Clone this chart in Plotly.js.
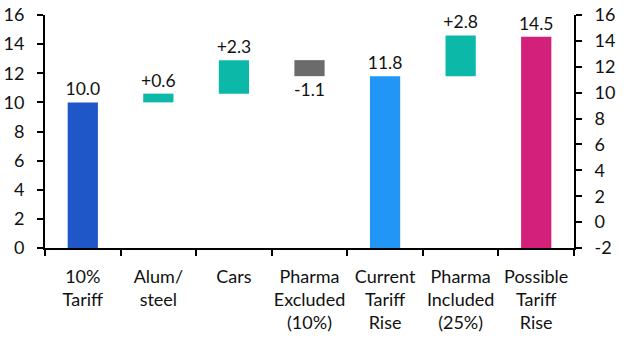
<!DOCTYPE html>
<html>
<head>
<meta charset="utf-8">
<script src="https://cdn.plot.ly/plotly-3.0.1.min.js"></script>
<style>html,body{margin:0;padding:0;background:#fff;}#chart{width:627px;height:353px;}</style>
</head>
<body>
<div id="chart"></div>
<script>
const categories = ["10%<br>Tariff", "Alum/<br>steel", "Cars", "Pharma<br>Excluded<br>(10%)", "Current<br>Tariff<br>Rise", "Pharma<br>Included<br>(25%)", "Possible<br>Tariff<br>Rise"];
const values = [10.0, 0.6, 2.3, -1.1, 11.8, 2.8, 14.5];
const kinds = ["total", "delta", "delta", "delta", "total", "delta", "total"];
const labels = ["10.0", "+0.6", "+2.3", "-1.1", "11.8", "+2.8", "14.5"];
const colors = ["#1f56c8", "#0cb9a9", "#0cb9a9", "#6b6b6b", "#2196f7", "#0cb9a9", "#d3217b"];
const leftTicks = [0, 2, 4, 6, 8, 10, 12, 14, 16];
const rightTicks = [-2, 0, 2, 4, 6, 8, 10, 12, 14, 16];

const bases = [];
const lengths = [];
let running = 0;
for (let i = 0; i < values.length; i++) {
  if (kinds[i] === "total") {
    bases.push(0);
    lengths.push(values[i]);
    running = values[i];
  } else {
    bases.push(running);
    lengths.push(values[i]);
    running += values[i];
  }
}

const font = "Lato, 'Open Sans', sans-serif";
const data = [
  {
    type: "bar",
    x: categories,
    y: lengths,
    base: bases,
    marker: {color: colors},
    text: labels,
    textposition: "outside",
    constraintext: "none",
    cliponaxis: false,
    textfont: {family: font, size: 17.5, color: "#111"},
    hoverinfo: "skip"
  },
  {
    type: "scatter",
    x: [],
    y: [],
    yaxis: "y2",
    showlegend: false,
    hoverinfo: "skip"
  }
];

const axisCommon = {
  showgrid: false,
  zeroline: false,
  showline: true,
  linecolor: "#000",
  linewidth: 2,
  ticks: "outside",
  ticklen: 6,
  tickwidth: 2,
  tickcolor: "#000",
  tickfont: {family: font, size: 18, color: "#111"},
  fixedrange: true,
  automargin: false
};

const layout = {
  width: 627,
  height: 353,
  margin: {l: 45, r: 53, t: 15, b: 105},
  paper_bgcolor: "#fff",
  plot_bgcolor: "#fff",
  showlegend: false,
  bargap: 0.6,
  font: {family: font, size: 18, color: "#111"},
  xaxis: Object.assign({}, axisCommon, {
    type: "category",
    tickson: "boundaries",
    tickangle: 0,
    ticklabelstandoff: 11
  }),
  yaxis: Object.assign({}, axisCommon, {
    range: [0, 16],
    tickvals: leftTicks,
    ticktext: leftTicks.map(String),
    ticklabelstandoff: 9
  }),
  yaxis2: Object.assign({}, axisCommon, {
    overlaying: "y",
    side: "right",
    range: [-2, 16],
    tickvals: rightTicks,
    ticktext: rightTicks.map(String),
    ticklabelstandoff: 9
  })
};

Plotly.newPlot("chart", data, layout, {displayModeBar: false, staticPlot: true});
</script>
</body>
</html>
